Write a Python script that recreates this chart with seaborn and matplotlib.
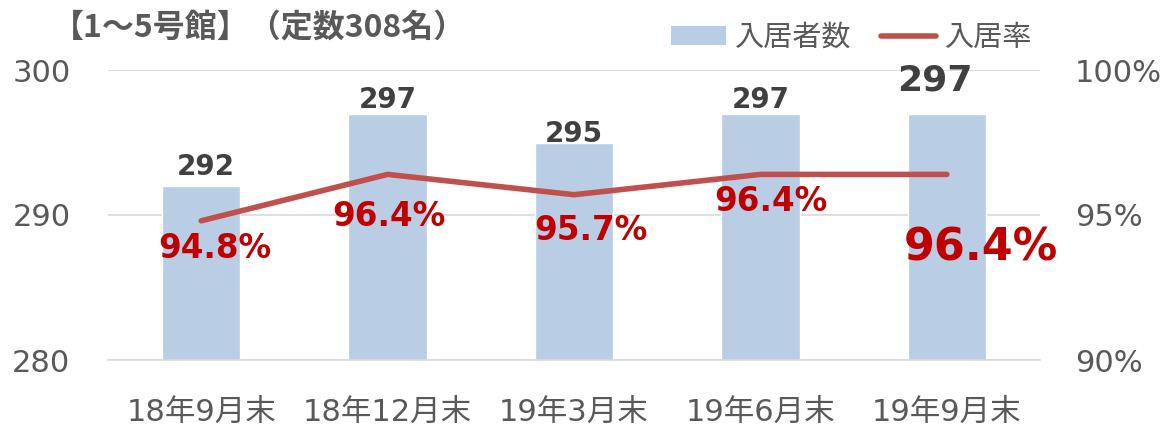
import numpy as np
import pandas as pd
import matplotlib
matplotlib.use("Agg")
import matplotlib.pyplot as plt
import seaborn as sns
from matplotlib.patches import Patch
from matplotlib.lines import Line2D

categories = ["18年9月末", "18年12月末", "19年3月末", "19年6月末", "19年9月末"]
residents = [292, 297, 295, 297, 297]
occupancy = [94.8, 96.4, 95.7, 96.4, 96.4]
left_ticks = [280, 290, 300]
right_ticks = [90, 95, 100]

sns.set_theme(style="white")
plt.rcParams['font.family'] = ['DejaVu Sans', 'Noto Sans CJK JP']

BAR = "#B9CDE5"
LINE = "#C0504D"
RED = "#C00000"
GRAY = "#595959"
DARK = "#404040"

fig = plt.figure(figsize=(11.7, 4.29), dpi=100)
ax = fig.add_axes([108/1170, 1 - 360/429, (1040 - 108)/1170, (360 - 70)/429])

df = pd.DataFrame({"cat": categories, "n": residents, "r": occupancy})
sns.barplot(data=df, x="cat", y="n", color=BAR, width=0.42, ax=ax, saturation=1)
ax.set_ylim(280, 300)
ax.set_yticks(left_ticks)
ax.set_xlim(-0.5, 4.5)
ax.set_xlabel("")
ax.set_ylabel("")
for s in ["top", "right", "left"]:
    ax.spines[s].set_visible(False)
ax.spines["bottom"].set_color("#D9D9D9")
ax.spines["bottom"].set_linewidth(1.2)
ax.yaxis.grid(True, color="#D9D9D9", linewidth=1.2)
ax.set_axisbelow(True)
ax.tick_params(axis="y", labelsize=22, colors=GRAY, length=0, pad=27)
ax.tick_params(axis="x", labelsize=22, colors=GRAY, length=0, pad=27)

ax2 = ax.twinx()
df["x"] = np.arange(len(categories))
sns.lineplot(data=df, x="x", y="r", color=LINE, linewidth=4, ax=ax2,
             solid_capstyle="round", legend=False)
ax2.set_ylim(90, 100)
ax2.set_yticks(right_ticks)
ax2.set_yticklabels([f"{t}%" for t in right_ticks])
ax2.set_xlim(-0.5, 4.5)
ax2.set_ylabel("")
ax2.set_xlabel("")
for s in ["top", "right", "left", "bottom"]:
    ax2.spines[s].set_visible(False)
ax2.tick_params(axis="y", labelsize=22, colors=GRAY, length=0, pad=25)
ax2.grid(False)

# count labels (offsets in pixels relative to bar top)
cnt_dx = [5, 0, 0, 0, -12]
cnt_dy = [19, 14, 8, 14, 33]
cnt_size = [20, 20, 20, 20, 26]
for i, v in enumerate(residents):
    ax.annotate(str(v), (i, v), xytext=(cnt_dx[i], cnt_dy[i]), textcoords="offset pixels",
                ha="center", va="center", fontsize=cnt_size[i], fontweight="bold", color=DARK)

# rate labels (offsets in pixels relative to line point)
r_dx = [14, 1, 17, 10, 34]
r_dy = [-28, -42, -36, -27, -74]
r_size = [23.5, 23.5, 23.5, 23.5, 32]
for i, v in enumerate(occupancy):
    ax2.annotate(f"{v}%", (i, v), xytext=(r_dx[i], r_dy[i]), textcoords="offset pixels",
                 ha="center", va="center", fontsize=r_size[i], fontweight="bold", color=RED)

fig.text(52/1170, 1 - 27/429, "【1～5号館】（定数308名）", fontsize=23, fontweight="bold",
         color=GRAY, ha="left", va="center", family=['Noto Sans CJK JP', 'DejaVu Sans'])

handles = [Patch(facecolor=BAR, edgecolor="none"),
           Line2D([0], [0], color=LINE, linewidth=4, solid_capstyle="round")]
leg = fig.legend(handles, ["入居者数", "入居率"], loc="center right",
                 bbox_to_anchor=(1047/1170, 1 - 38/429),
                 ncol=2, frameon=False, handlelength=1.9, handleheight=0.6, handletextpad=0.3,
                 columnspacing=1.0, borderpad=0, prop={'family': ['Noto Sans CJK JP'], 'size': 21})
for t in leg.get_texts():
    t.set_color(GRAY)

fig.savefig("out.png", dpi=100)
